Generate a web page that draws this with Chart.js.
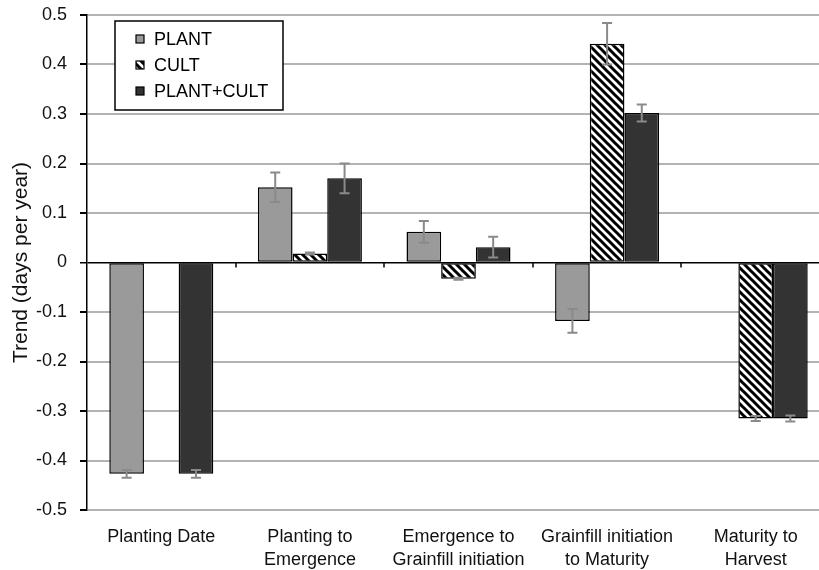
<!DOCTYPE html>
<html lang="en">
<head>
  <meta charset="UTF-8">
  <title>Trend by phase</title>
  <script src="https://cdn.jsdelivr.net/npm/chart.js"></script>
  <style>
    html, body { margin:0; padding:0; background:#fff; overflow:hidden; }
    #wrap { width:819px; height:570px; overflow:hidden; position:relative; }
    canvas { display:block; }
  </style>
</head>
<body>
<div id="wrap"><canvas id="c" width="830" height="570"></canvas></div>
<script>
// categories (multi-line labels)
const categories = [
  ['Planting Date'],
  ['Planting to', 'Emergence'],
  ['Emergence to', 'Grainfill initiation'],
  ['Grainfill initiation', 'to Maturity'],
  ['Maturity to', 'Harvest']
];
const seriesNames = ['PLANT', 'CULT', 'PLANT+CULT'];

// trend values (days per year)
const plantVals     = [-0.427, 0.152, 0.062, -0.118, null];
const cultVals      = [null,   0.018, -0.033, 0.442, -0.315];
const plantCultVals = [-0.427, 0.170, 0.031, 0.302, -0.315];

// error bar half-widths
const plantErr     = [0.008, 0.030, 0.022, 0.024, null];
const cultErr      = [null,  0.002, 0.002, 0.042, 0.005];
const plantCultErr = [0.008, 0.030, 0.021, 0.017, 0.006];

const yTicks = [0.5, 0.4, 0.3, 0.2, 0.1, 0, -0.1, -0.2, -0.3, -0.4, -0.5];

const FONT = '"Liberation Sans", Arial, sans-serif';

// diagonal stripe pattern for CULT
function stripes() {
  const s = 8;
  const p = document.createElement('canvas');
  p.width = s; p.height = s;
  const g = p.getContext('2d');
  g.fillStyle = '#fff'; g.fillRect(0, 0, s, s);
  g.strokeStyle = '#000'; g.lineWidth = 3;
  g.beginPath();
  g.moveTo(-2, -2); g.lineTo(s + 2, s + 2);
  g.moveTo(-2 - s, -2); g.lineTo(2, s + 2);
  g.moveTo(s - 2, -2); g.lineTo(2 * s + 2, s + 2);
  g.stroke();
  return document.getElementById('c').getContext('2d').createPattern(p, 'repeat');
}

const errorBars = {
  id: 'errorBars',
  afterDatasetsDraw(chart) {
    const ctx = chart.ctx, y = chart.scales.y;
    ctx.save();
    ctx.strokeStyle = '#8a8a8a'; ctx.lineWidth = 2;
    chart.data.datasets.forEach((ds, di) => {
      const meta = chart.getDatasetMeta(di);
      ds.data.forEach((v, i) => {
        const e = ds.errors[i];
        if (v == null || e == null) return;
        const x = meta.data[i].x;
        const y1 = y.getPixelForValue(v + e), y2 = y.getPixelForValue(v - e);
        ctx.beginPath();
        ctx.moveTo(x, y1); ctx.lineTo(x, y2);
        ctx.moveTo(x - 5, y1); ctx.lineTo(x + 5, y1);
        ctx.moveTo(x - 5, y2); ctx.lineTo(x + 5, y2);
        ctx.stroke();
      });
    });
    ctx.restore();
  }
};

const zeroTicks = {
  id: 'zeroTicks',
  afterDatasetsDraw(chart) {
    const ctx = chart.ctx, xs = chart.scales.x, y0 = chart.scales.y.getPixelForValue(0);
    const w = (xs.right - xs.left) / categories.length;
    ctx.save();
    ctx.strokeStyle = '#000'; ctx.lineWidth = 1.5;
    for (let i = 1; i < categories.length; i++) {
      const x = Math.round(xs.left + i * w);
      ctx.beginPath(); ctx.moveTo(x, y0); ctx.lineTo(x, y0 + 5); ctx.stroke();
    }
    ctx.restore();
  }
};

const boxLegend = {
  id: 'boxLegend',
  afterDraw(chart) {
    const ctx = chart.ctx;
    const bx = 115, by = 21, bw = 168, bh = 89;
    ctx.save();
    ctx.fillStyle = '#fff'; ctx.fillRect(bx, by, bw, bh);
    ctx.strokeStyle = '#000'; ctx.lineWidth = 1.5; ctx.strokeRect(bx, by, bw, bh);
    ctx.font = '18px ' + FONT;
    ctx.textBaseline = 'middle'; ctx.textAlign = 'left';
    chart.data.datasets.forEach((ds, i) => {
      const cy = by + 18 + i * 26;
      ctx.fillStyle = ds.backgroundColor;
      ctx.fillRect(136, cy - 4, 8, 8);
      ctx.strokeStyle = '#000'; ctx.lineWidth = 1.2;
      ctx.strokeRect(136, cy - 4, 8, 8);
      ctx.fillStyle = '#000';
      ctx.fillText(ds.label, 154, cy + 1);
    });
    ctx.restore();
  }
};

const common = { borderColor: '#000', borderWidth: 1.5, borderSkipped: false,
                 categoryPercentage: 0.7, barPercentage: 1 };

new Chart(document.getElementById('c'), {
  type: 'bar',
  data: {
    labels: categories,
    datasets: [
      { ...common, label: seriesNames[0], data: plantVals, errors: plantErr, backgroundColor: '#9a9a9a' },
      { ...common, label: seriesNames[1], data: cultVals, errors: cultErr, backgroundColor: stripes() },
      { ...common, label: seriesNames[2], data: plantCultVals, errors: plantCultErr, backgroundColor: '#333333' }
    ]
  },
  options: {
    responsive: false,
    animation: false,
    layout: { padding: 0 },
    plugins: { legend: { display: false }, tooltip: { enabled: false } },
    scales: {
      x: {
        grid: { display: false },
        border: { display: false },
        ticks: { color: '#111', font: { family: FONT, size: 18, lineHeight: 1.25 }, padding: 8, maxRotation: 0 },
        afterFit(s) { s.height = 60; }
      },
      y: {
        min: -0.5, max: 0.5,
        afterBuildTicks(s) { s.ticks = yTicks.map(v => ({ value: v })); },
        ticks: {
          color: '#111', font: { family: FONT, size: 18 }, padding: 13,
          callback: v => (Math.round(v * 10) / 10).toString()
        },
        grid: {
          color: c => c.tick && c.tick.value === 0 ? '#000' : '#b3b3b3',
          lineWidth: c => c.tick && c.tick.value === 0 ? 1.5 : 2,
          tickColor: '#000', tickLength: 7
        },
        border: { color: '#000', width: 1.5 },
        title: { display: true, text: 'Trend (days per year)', color: '#111',
                 font: { family: FONT, size: 21 }, padding: { top: 9, bottom: 0 } },
        afterFit(s) { s.width = 87; s.paddingTop = 15; s.paddingBottom = 0; }
      }
    }
  },
  plugins: [errorBars, zeroTicks, boxLegend]
});
</script>
</body>
</html>
